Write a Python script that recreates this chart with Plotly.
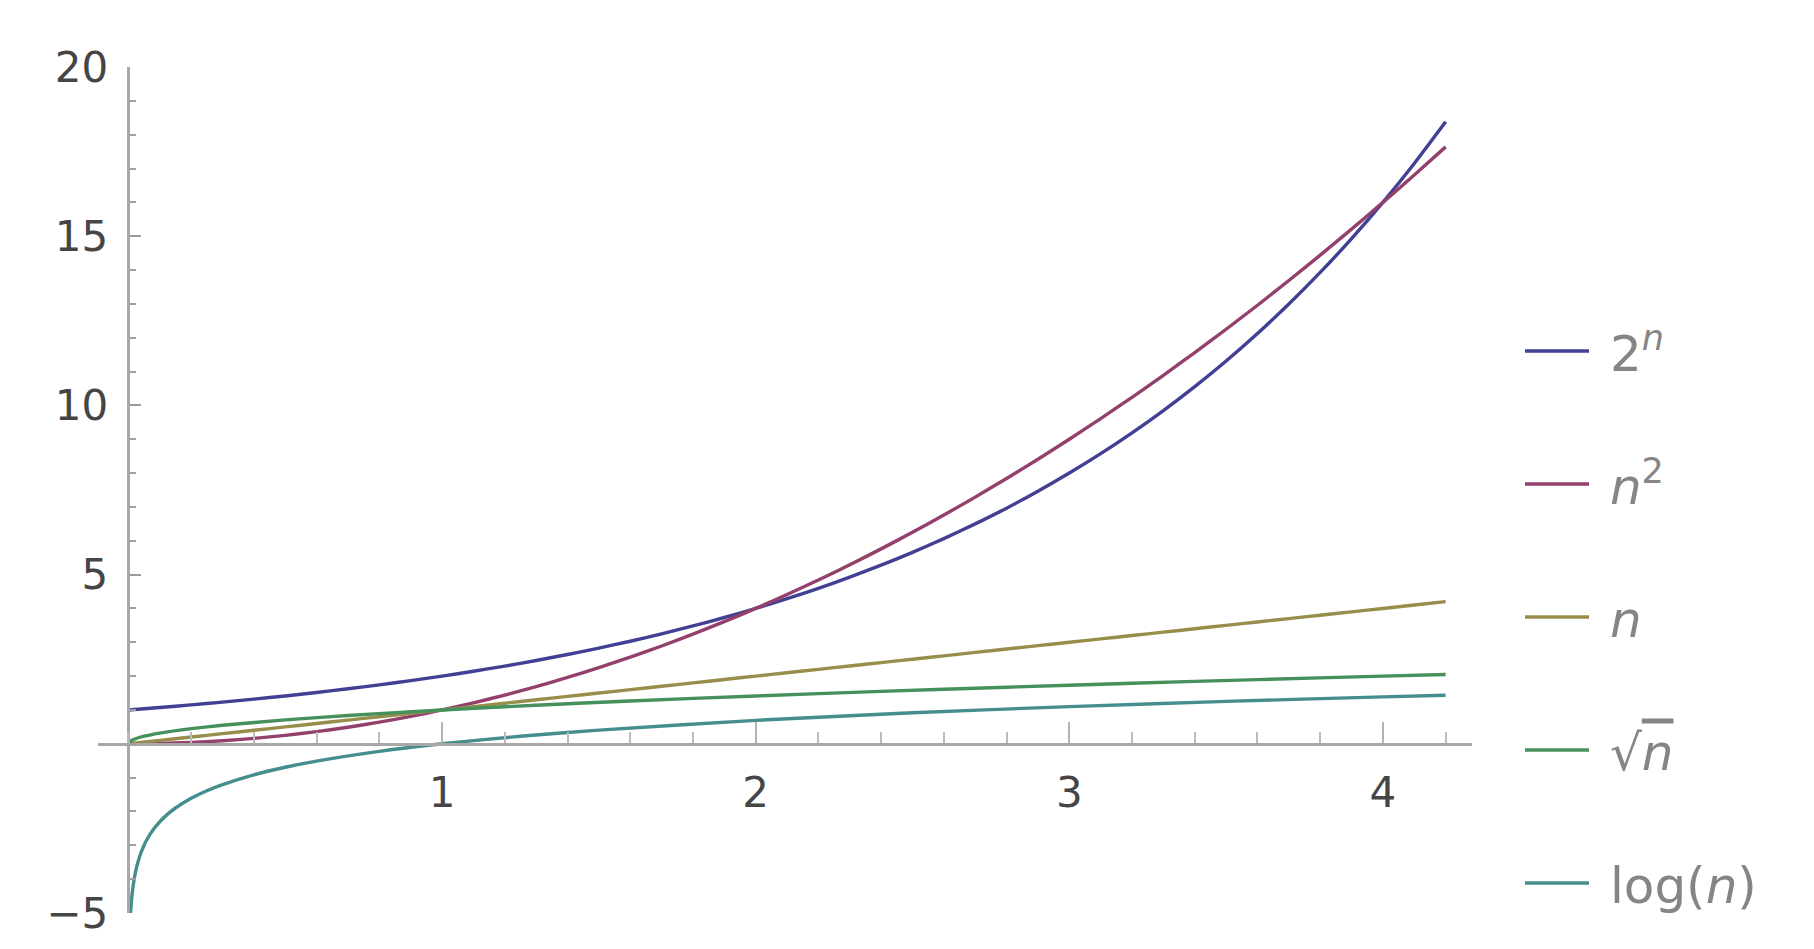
import plotly.graph_objects as go

# ---- data ----
n_main = [0.0, 0.1, 0.2, 0.3, 0.4, 0.5, 0.6, 0.7, 0.8, 0.9, 1.0, 1.1, 1.2, 1.3, 1.4,
          1.5, 1.6, 1.7, 1.8, 1.9, 2.0, 2.1, 2.2, 2.3, 2.4, 2.5, 2.6, 2.7, 2.8, 2.9,
          3.0, 3.1, 3.2, 3.3, 3.4, 3.5, 3.6, 3.7, 3.8, 3.9, 4.0, 4.1, 4.2]
exp2_vals = [1.000, 1.072, 1.149, 1.231, 1.320, 1.414, 1.516, 1.625, 1.741, 1.866,
             2.000, 2.144, 2.297, 2.462, 2.639, 2.828, 3.031, 3.249, 3.482, 3.732,
             4.000, 4.287, 4.595, 4.925, 5.278, 5.657, 6.063, 6.498, 6.964, 7.464,
             8.000, 8.574, 9.190, 9.849, 10.556, 11.314, 12.126, 12.996, 13.929, 14.929,
             16.000, 17.148, 18.379]
sq_vals = [0.00, 0.01, 0.04, 0.09, 0.16, 0.25, 0.36, 0.49, 0.64, 0.81, 1.00, 1.21, 1.44,
           1.69, 1.96, 2.25, 2.56, 2.89, 3.24, 3.61, 4.00, 4.41, 4.84, 5.29, 5.76, 6.25,
           6.76, 7.29, 7.84, 8.41, 9.00, 9.61, 10.24, 10.89, 11.56, 12.25, 12.96, 13.69,
           14.44, 15.21, 16.00, 16.81, 17.64]
lin_vals = [0.0, 0.1, 0.2, 0.3, 0.4, 0.5, 0.6, 0.7, 0.8, 0.9, 1.0, 1.1, 1.2, 1.3, 1.4,
            1.5, 1.6, 1.7, 1.8, 1.9, 2.0, 2.1, 2.2, 2.3, 2.4, 2.5, 2.6, 2.7, 2.8, 2.9,
            3.0, 3.1, 3.2, 3.3, 3.4, 3.5, 3.6, 3.7, 3.8, 3.9, 4.0, 4.1, 4.2]

n_sqrt = [0.0, 0.01, 0.02, 0.05, 0.1, 0.2, 0.3, 0.5, 0.7, 1.0, 1.3, 1.6, 2.0, 2.4,
          2.8, 3.2, 3.6, 4.0, 4.2]
sqrt_vals = [0.0, 0.100, 0.141, 0.224, 0.316, 0.447, 0.548, 0.707, 0.837, 1.000,
             1.140, 1.265, 1.414, 1.549, 1.673, 1.789, 1.897, 2.000, 2.049]

n_log = [0.0067, 0.008, 0.01, 0.0125, 0.015, 0.02, 0.025, 0.03, 0.04, 0.05, 0.06,
         0.08, 0.1, 0.125, 0.15, 0.2, 0.25, 0.3, 0.4, 0.5, 0.6, 0.8, 1.0, 1.25, 1.5,
         2.0, 2.5, 3.0, 3.5, 4.0, 4.2]
log_vals = [-5.0, -4.828, -4.605, -4.382, -4.200, -3.912, -3.689, -3.507, -3.219,
            -2.996, -2.813, -2.526, -2.303, -2.079, -1.897, -1.609, -1.386, -1.204,
            -0.916, -0.693, -0.511, -0.223, 0.0, 0.223, 0.405, 0.693, 0.916, 1.099,
            1.253, 1.386, 1.435]

series_names = ["2<sup><i>n</i></sup>", "<i>n</i><sup>2</sup>", "<i>n</i>",
                "√<span style='text-decoration:overline'><i>n</i></span>",
                "log(<i>n</i>)"]
x_tick_vals = [1, 2, 3, 4]
x_tick_text = ["1", "2", "3", "4"]
y_tick_vals = [-5, 5, 10, 15, 20]
y_tick_text = ["\u22125", "5", "10", "15", "20"]

# ---- styling ----
colors = ["rgb(66,64,148)", "rgb(148,64,108)", "rgb(152,142,76)",
          "rgb(70,144,92)", "rgb(70,142,142)"]
X_RANGE = [-0.097, 4.284]
Y_RANGE = [-5, 20]
AXIS_COLOR = "#a8a8a8"
LEGEND_PAD = "\u00a0"

# the page body adds an 8px margin around the figure
OFF = 8
PAGE_W, PAGE_H = 1814, 949
W, H = PAGE_W - OFF, PAGE_H - OFF
# plot area in page pixels: x 98..1472, y 67..913
ML, MR = 98 - OFF, PAGE_W - 1472
MT, MB = 67 - OFF, PAGE_H - 913

xs = [n_main, n_main, n_main, n_sqrt, n_log]
ys = [exp2_vals, sq_vals, lin_vals, sqrt_vals, log_vals]

fig = go.Figure()
for i in range(5):
    fig.add_trace(go.Scatter(
        x=xs[i], y=ys[i], mode="lines", name=LEGEND_PAD + series_names[i],
        legendgroup=f"g{i}",
        line=dict(color=colors[i], width=3.4, shape="spline", smoothing=0.6),
        hoverinfo="skip",
    ))

plot_w = W - ML - MR
plot_h = H - MT - MB
yaxis_pos = (0 - X_RANGE[0]) / (X_RANGE[1] - X_RANGE[0])
xaxis_pos = (0 - Y_RANGE[0]) / (Y_RANGE[1] - Y_RANGE[0])


def px_x(p):  # page pixel -> paper fraction
    return (p - OFF - ML) / plot_w


def px_y(p):
    return (H - MB - (p - OFF)) / plot_h


fig.update_layout(
    width=W, height=H,
    margin=dict(l=ML, r=MR, t=MT, b=MB, pad=0),
    paper_bgcolor="white",
    plot_bgcolor="white",
    font=dict(family="DejaVu Sans", color="#444444"),
    xaxis=dict(
        range=X_RANGE, anchor="free", position=xaxis_pos,
        showgrid=False, zeroline=False,
        showline=True, linecolor=AXIS_COLOR, linewidth=2.5,
        tickmode="array", tickvals=x_tick_vals, ticktext=x_tick_text,
        ticks="inside", ticklen=21, tickwidth=2, tickcolor="#b4b4b4",
        ticklabelstandoff=11,
        tickfont=dict(size=42, color="#454545"),
        minor=dict(tickmode="linear", tick0=0, dtick=0.2, ticks="inside",
                   ticklen=11, tickwidth=2, tickcolor="#bcbcbc"),
    ),
    yaxis=dict(
        range=Y_RANGE, anchor="free", position=yaxis_pos,
        showgrid=False, zeroline=False,
        showline=True, linecolor=AXIS_COLOR, linewidth=2.5,
        tickmode="array", tickvals=y_tick_vals, ticktext=y_tick_text,
        ticks="inside", ticklen=11, tickwidth=2, tickcolor="#9a9a9a",
        ticklabelstandoff=11,
        tickfont=dict(size=42, color="#454545"),
        minor=dict(tickmode="linear", tick0=0, dtick=1, ticks="inside",
                   ticklen=6, tickwidth=2, tickcolor="#a0a0a0"),
    ),
    legend=dict(
        x=px_x(1520), y=px_y(312), xanchor="left", yanchor="top",
        font=dict(size=50, color="#858585", family="DejaVu Sans"),
        tracegroupgap=65, traceorder="grouped",
        bgcolor="rgba(0,0,0,0)", itemwidth=64,
    ),
    showlegend=True,
)

fig.write_html("out.html")
